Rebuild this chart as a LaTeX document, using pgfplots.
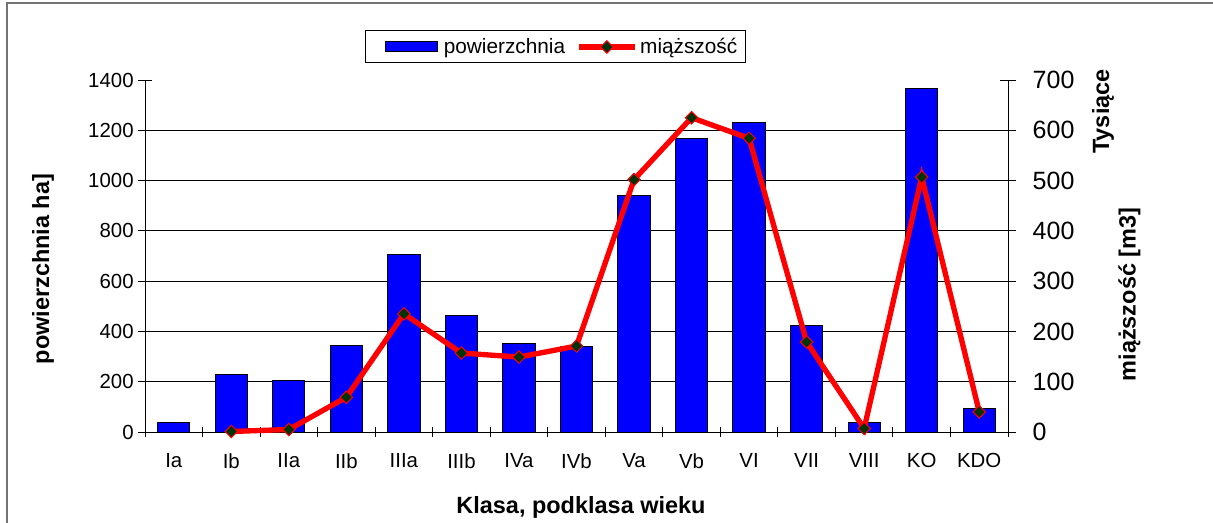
\documentclass[border=0pt]{standalone}
\usepackage{pgfplots}
\pgfplotsset{compat=1.18}
\usepackage{fontspec}
\setmainfont{Liberation Sans}
\definecolor{mygreen}{RGB}{0,51,0}
\pgfplotsset{
  barleg/.style={legend image code/.code={\path (0pt,0pt) (51.75pt,0pt); \draw[##1] (10.5pt,-3.75pt) rectangle (49.5pt,3.75pt);}},
  lineleg/.style={legend image code/.code={\draw[mark repeat=2,mark phase=2,##1] plot coordinates {(0pt,0pt) (21pt,0pt) (42pt,0pt)};}},
}
\begin{document}
\begin{tikzpicture}[x=1pt,y=1pt]
\useasboundingbox (0,0) rectangle (909.75,391.5);
\begin{scope}
\clip (0,0) rectangle (909.75,391.5);
\draw[black!55, line width=1.4pt] (5.25,-10) -- (5.25,389.25) -- (920,389.25);
\end{scope}
\begin{axis}[
  at={(108.75pt,67.5pt)}, anchor=south west,
  scale only axis, width=647.25pt, height=264pt,
  xmin=-0.5, xmax=14.5, ymin=0, ymax=1400,
  axis y line*=left, axis x line*=bottom,
  axis line style={black, line width=0.75pt},
  tick align=center,
  xtick={0,...,14},
  xticklabels={Ia,Ib,IIa,IIb,IIIa,IIIb,IVa,IVb,Va,Vb,VI,VII,VIII,KO,KDO},
  major x tick style={draw=none},
  minor xtick={-0.5,0.5,...,14.5},
  minor x tick style={black, line width=0.75pt},
  minor tick length=7.5pt,
  ytick={0,200,...,1400},
  major tick length=10pt,
  y tick style={black, line width=0.75pt},
  extra y ticks={200,400,...,1200},
  extra y tick labels={},
  extra y tick style={grid=major, major grid style={black, line width=0.75pt}, major tick length=0pt},
  /pgf/number format/assume math mode=true,
  /pgf/number format/1000 sep={},
  yticklabel style={font=\fontsize{15.3}{18}\selectfont},
  xticklabel style={font=\fontsize{15.3}{18}\selectfont, yshift=-7.5pt},
  xlabel={Klasa, podklasa wieku},
  xlabel style={font=\bfseries\fontsize{17.6}{21}\selectfont, at={(axis description cs:0.5052,-0.2131)}, anchor=center},
  ylabel={powierzchnia ha]},
  ylabel style={font=\bfseries\fontsize{17.6}{21}\selectfont, at={(axis description cs:-0.1182,0.463)}, anchor=center},
]
\addplot[ybar, bar width=0.56, fill=blue, draw=black, line width=0.75pt] coordinates {
(0,37) (1,229) (2,203) (3,343) (4,707) (5,464) (6,351) (7,340) (8,940) (9,1167) (10,1230) (11,424) (12,37) (13,1367) (14,95)};
\end{axis}
\begin{axis}[
  at={(108.75pt,67.5pt)}, anchor=south west,
  scale only axis, width=647.25pt, height=264pt,
  xmin=-0.5, xmax=14.5, ymin=0, ymax=700,
  axis y line*=right, axis x line=none,
  clip=false,
  axis line style={black, line width=0.75pt},
  tick align=center,
  ytick={0,100,...,700},
  major tick length=12pt,
  y tick style={black, line width=0.75pt},
  /pgf/number format/assume math mode=true,
  yticklabel style={font=\fontsize{18.75}{22}\selectfont, xshift=9pt},
  ylabel={miąższość [m3]},
  ylabel style={font=\bfseries\fontsize{17.6}{21}\selectfont, at={(axis description cs:1.1408,0.3906)}, anchor=center},
  legend columns=2,
  legend style={at={(axis description cs:0.4757,1.0938)}, anchor=center, draw=black, line width=0.75pt,
    font=\fontsize{15.6}{18}\selectfont, inner xsep=4pt, inner ysep=3.5pt,
    /tikz/every even column/.append style={column sep=6.25pt}},
]
\addlegendimage{fill=blue, draw=black, line width=0.75pt, barleg}
\addlegendentry{powierzchnia}
\addplot[red, line width=4pt, mark=square*, mark size=3.3pt, mark options={rotate=45, fill=mygreen, draw=red, line width=0.75pt}, lineleg] coordinates {
(1,1) (2,5) (3,69) (4,235) (5,157) (6,149) (7,171) (8,502) (9,625) (10,584) (11,179) (12,7) (13,507) (14,40)};
\addlegendentry{miąższość}
\node[rotate=90, font=\bfseries\fontsize{17.6}{21}\selectfont] at (rel axis cs:1.1101,0.9105) {Tysiące};
\end{axis}
\end{tikzpicture}
\end{document}
